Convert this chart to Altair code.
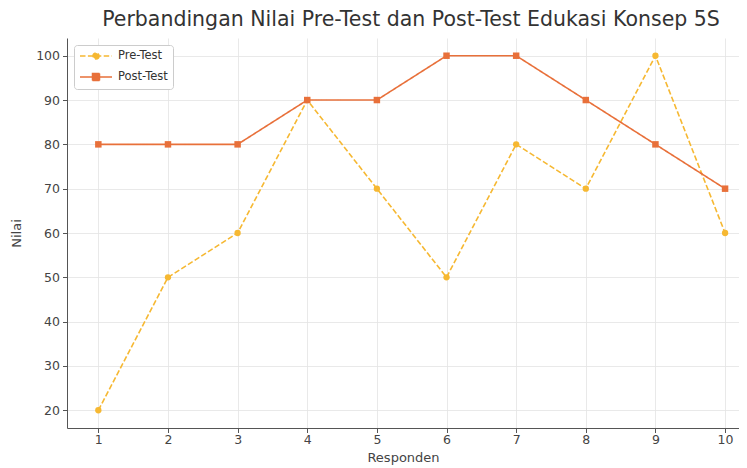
import altair as alt
import pandas as pd

responden = list(range(1, 11))
pre_test = [20, 50, 60, 90, 70, 50, 80, 70, 100, 60]
post_test = [80, 80, 80, 90, 90, 100, 100, 90, 80, 70]
series_names = ["Pre-Test", "Post-Test"]
series_colors = ["#f6b832", "#e8703a"]
x_ticks = list(range(1, 11))
y_ticks = list(range(20, 101, 10))

rows = []
for r, v in zip(responden, pre_test):
    rows.append({"Responden": r, "Nilai": v, "Seri": "Pre-Test"})
for r, v in zip(responden, post_test):
    rows.append({"Responden": r, "Nilai": v, "Seri": "Post-Test"})
df = pd.DataFrame(rows)
pre_df = pd.DataFrame({"Responden": responden, "Nilai": pre_test})
post_df = pd.DataFrame({"Responden": responden, "Nilai": post_test})

FONT = "DejaVu Sans"
AX = "#555555"

pre_path = "M-3.2,0H3.2M0.6,0A0.6,0.6,0,1,1,-0.6,0A0.6,0.6,0,1,1,0.6,0Z"
post_path = "M-3.2,0H3.2M-0.7,-0.7H0.7V0.7H-0.7Z"
test = "datum.value === 'Pre-Test'"

legend = alt.Legend(
    title=None,
    orient="none",
    legendX=7,
    legendY=7,
    fillColor="white",
    strokeColor="#cccccc",
    cornerRadius=3,
    padding=5,
    rowPadding=8,
    symbolSize=100,
    symbolOffset=11,
    labelOffset=16,
    labelFont=FONT,
    labelFontSize=11.5,
    labelColor="#333333",
    symbolType={"expr": f"{test} ? '{pre_path}' : '{post_path}'"},
    symbolDash={"expr": f"{test} ? [5.5, 2.4] : [1, 0]"},
    symbolFillColor={"expr": f"{test} ? '{series_colors[0]}' : '{series_colors[1]}'"},
    symbolStrokeWidth=1.5,
    symbolOpacity=1,
)

color = alt.Color("Seri:N", scale=alt.Scale(domain=series_names, range=series_colors), legend=legend)

x = alt.X(
    "Responden:Q",
    scale=alt.Scale(domain=[0.55, 10.2], nice=False, zero=False),
    axis=alt.Axis(
        values=x_ticks, title="Responden", grid=True, gridColor="#e3e3e3", gridWidth=0.8,
        domainColor=AX, tickColor=AX, tickSize=4.5, labelPadding=1,
        labelFont=FONT, labelFontSize=12.5, labelColor="#444444",
        titleFont=FONT, titleFontSize=13, titleFontWeight="normal", titleColor="#444444",
        titleY=33, titleBaseline="alphabetic",
    ),
)
y = alt.Y(
    "Nilai:Q",
    scale=alt.Scale(domain=[16, 104], nice=False, zero=False),
    axis=alt.Axis(
        values=y_ticks, title="Nilai", grid=True, gridColor="#e3e3e3", gridWidth=0.8,
        domainColor=AX, tickColor=AX, tickSize=4.5, labelPadding=3,
        labelFont=FONT, labelFontSize=12.5, labelColor="#444444",
        titleFont=FONT, titleFontSize=13, titleFontWeight="normal", titleColor="#444444",
        titlePadding=12,
    ),
)

lines = alt.Chart(df).mark_line(strokeWidth=1.6).encode(
    x=x, y=y, color=color,
    strokeDash=alt.StrokeDash("Seri:N", scale=alt.Scale(domain=series_names, range=[[5.5, 2.4], [1, 0]]), legend=None),
    detail="Seri:N",
)
pre_points = alt.Chart(pre_df).mark_point(
    filled=True, opacity=1, shape="circle", size=40, color=series_colors[0]
).encode(x=x, y=y)
post_points = alt.Chart(post_df).mark_point(
    filled=True, opacity=1, shape="square", size=42, color=series_colors[1]
).encode(x=x, y=y)

chart = alt.layer(lines, pre_points, post_points).properties(
    width=672,
    height=390,
    autosize=alt.AutoSizeParams(type="none"),
    padding={"left": 59, "top": 30, "right": 0, "bottom": 40},
    title=alt.TitleParams(
        text="Perbandingan Nilai Pre-Test dan Post-Test Edukasi Konsep 5S",
        font=FONT, fontSize=20.5, fontWeight="normal", color="#333333",
        anchor="middle", frame="group", dx=8, dy=19, offset=11, baseline="alphabetic",
    ),
).configure_view(strokeWidth=0)

chart.save("out.html", embed_options={"renderer": "svg", "actions": False})
